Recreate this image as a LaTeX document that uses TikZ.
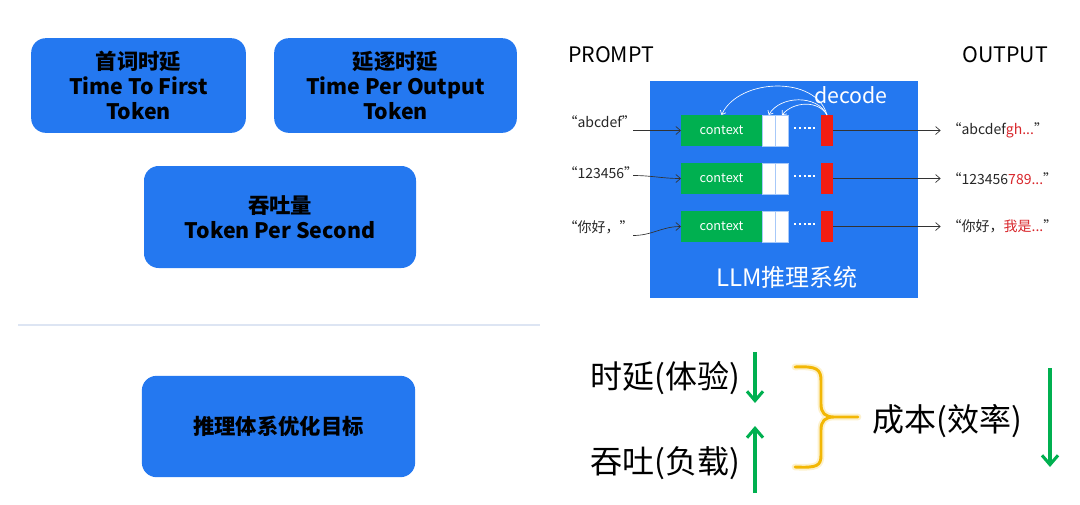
\documentclass[tikz,border=0pt]{standalone}
\usepackage{fontspec}
\setmainfont{Noto Sans CJK SC}
\usetikzlibrary{arrows.meta,positioning}
\definecolor{boxblue}{HTML}{2478F0}
\definecolor{ctxgreen}{HTML}{00B050}
\definecolor{tokred}{HTML}{F21D12}
\definecolor{outred}{HTML}{D8262B}
\definecolor{arrgreen}{HTML}{00B050}
\definecolor{braceorange}{HTML}{F2B705}
\definecolor{rulegrey}{HTML}{DDE5F3}
\begin{document}
\begin{tikzpicture}[x=0.75pt,y=-0.75pt,
  metric/.style={fill=boxblue,rounded corners=11pt,align=center,inner sep=0pt,
    font=\fontsize{16}{19}\selectfont\bfseries},
  ctxbox/.style={fill=ctxgreen,text=white,minimum width=60.75pt,minimum height=23.25pt,
    inner sep=0pt,outer sep=0pt,font=\fontsize{9.5}{9.5}\selectfont},
  tokbox/.style={fill=white,draw=boxblue!40!white,line width=0.3pt,minimum width=10pt,
    minimum height=23.25pt,inner sep=0pt,outer sep=0pt},
  newtok/.style={fill=tokred,minimum width=9pt,minimum height=23.25pt,inner sep=0pt,outer sep=0pt},
  iolab/.style={inner sep=1pt,text=black!85,font=\fontsize{10.5}{10.5}\selectfont},
  ioarrow/.style={-{Straight Barb[length=3.5pt,width=6pt]},black!80,line width=0.5pt},
  decarrow/.style={-{Straight Barb[length=2.5pt,width=4.5pt]},white,line width=0.5pt},
  dotsline/.style={white,line width=1.6pt,dash pattern=on 1.6pt off 2pt},
  goal/.style={font=\fontsize{24}{24}\selectfont,inner sep=0pt},
  trend/.style={-{Straight Barb[length=7pt,width=12pt]},arrgreen,line width=2.3pt}]
  \useasboundingbox (0,0) rectangle (1080,504);

  % metric boxes
  \node[metric,minimum width=161pt,minimum height=71pt] (ttft) at (138.5,85.5)
    {首词时延\\Time To First\\Token};
  \node[metric,minimum width=182pt,minimum height=71pt] (tpot) at (395.5,85.5)
    {延逐时延\\Time Per Output\\Token};
  \node[metric,minimum width=204pt,minimum height=76.5pt] (tps) at (280,217)
    {吞吐量\\Token Per Second};
  \draw[rulegrey,line width=0.8pt] (18,325) -- (540,325);
  \node[metric,minimum width=205pt,minimum height=76pt]
    (target) at (278.5,426.5) {推理体系优化目标};

  % inference system
  \node[font=\fontsize{16}{16}\selectfont] (prompt) at (611,55) {PROMPT};
  \node[font=\fontsize{16}{16}\selectfont] (output) at (1005,55) {OUTPUT};
  \node[fill=boxblue,minimum width=201pt,minimum height=162.75pt,inner sep=0pt] (sys) at (784,189.5) {};
  \node[text=white,font=\fontsize{18}{18}\selectfont] (syslab) at (787,277) {LLM推理系统};
  \node[text=white,font=\fontsize{16}{16}\selectfont] (dec) at (851,95) {decode};

  \foreach \r/\y/\ly/\dy/\inlab/\outlab in {
    1/130.5/122/0/{“abcdef”}/{“abcdef\textcolor{outred}{gh...}”},
    2/178.5/173/-3/{“123456”}/{“123456\textcolor{outred}{789...}”},
    3/226.5/227/9/{“你好，”}/{“你好，\textcolor{outred}{我是...}”}}
  {
    \node[ctxbox] (ctx\r) at (721.5,\y) {context};
    \node[tokbox,right=0pt of ctx\r] (wa\r) {};
    \node[tokbox,right=0pt of wa\r] (wb\r) {};
    \node[newtok] (new\r) at (827,\y) {};
    \draw[dotsline] ([xshift=4pt,yshift=2pt]wb\r.east) -- ([xshift=-4pt,yshift=2pt]new\r.west);
    \node[iolab,anchor=west] (in\r) at (562,\ly) {\inlab};
    \coordinate (src\r) at (633,{\y+\dy});
    \draw[ioarrow] (src\r) to[out=0,in=180] (ctx\r.west);
    \node[iolab,anchor=west] (out\r) at (946,\y) {\outlab};
    \draw[ioarrow] (new\r.east) -- ([xshift=-4pt]out\r.west);
  }

  % decode loops
  \draw[decarrow] (new1.north) to[out=105,in=65] (ctx1.north);
  \draw[decarrow] (new1.north) to[out=115,in=60] (wa1.north);
  \draw[decarrow] (new1.north) to[out=120,in=50] (wb1.north);

  % objectives
  \node[goal] (lat) at (665,378) {时延(体验)};
  \node[goal] (thr) at (665,463) {吞吐(负载)};
  \node[goal] (cost) at (947,421) {成本(效率)};
  \coordinate (latT) at (755,352);
  \coordinate (latB) at (755,403);
  \coordinate (thrB) at (755,493);
  \coordinate (thrT) at (755,426);
  \coordinate (costT) at (1050,368);
  \coordinate (costB) at (1050,467);
  \draw[trend] (latT) -- (latB);
  \draw[trend] (thrB) -- (thrT);
  \draw[trend] (costT) -- (costB);

  % brace
  \foreach \w/\o in {5pt/0.2,2.2pt/1}
    \draw[braceorange,line width=\w,opacity=\o,line cap=round]
      (795,367) .. controls (817,366) and (821,369) .. (821,381) -- (821,404)
      .. controls (821,413) and (825,417) .. (834,417) -- (858,417)
      (834,417) .. controls (825,417) and (821,421) .. (821,430) -- (821,455)
      .. controls (821,466) and (817,468) .. (795,467);
\end{tikzpicture}
\end{document}
